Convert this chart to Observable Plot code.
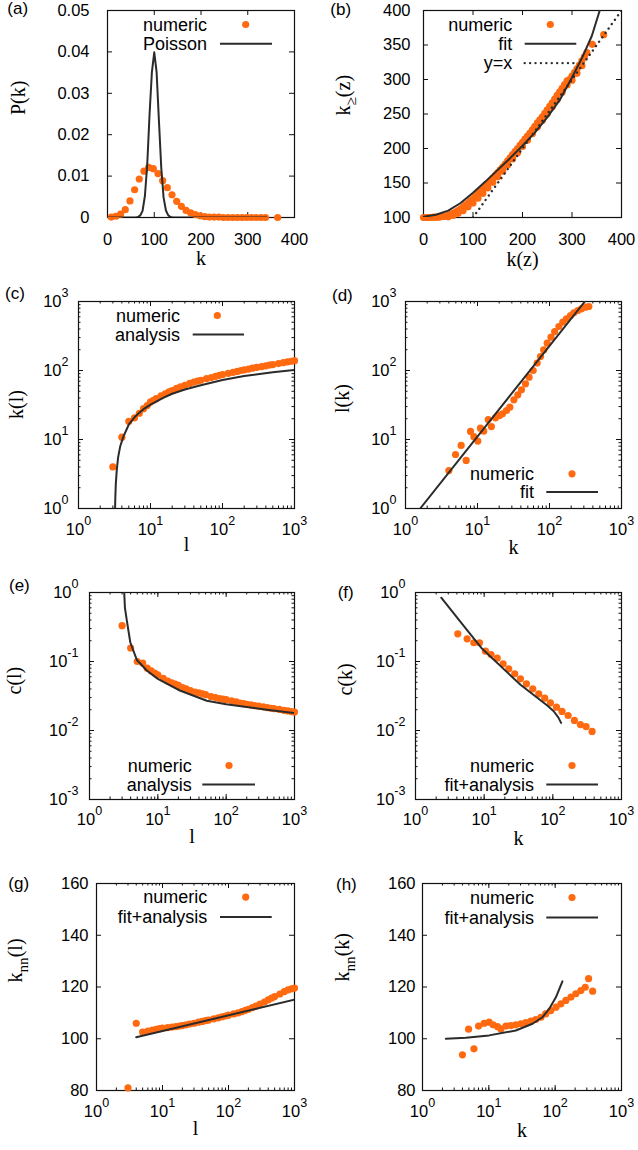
<!DOCTYPE html>
<html><head><meta charset="utf-8">
<script src="https://cdn.jsdelivr.net/npm/d3@7"></script>
<script src="https://cdn.jsdelivr.net/npm/@observablehq/plot@0.6"></script>
<style>
html,body{margin:0;padding:0;background:#fff;}
#root{position:relative;width:638px;height:1150px;overflow:hidden;background:#fff;}
#root > svg{position:absolute;}
</style></head><body><div id="root"></div>
<script>
// ---------------- data ----------------
// (a) degree distribution
const aNumK = [8,18,28,38,48,58,68,78,88,98,108,118,128,138,148,158,168,178,188,198,208,218,228,238,248,258,268,278,288,298,308,318,328,338,364];
const aNumP = [0.0001,0.0003,0.0008,0.0019,0.0040,0.0067,0.0093,0.0112,0.0121,0.0118,0.0106,0.0089,0.0072,0.0055,0.0039,0.0027,0.0017,0.0011,0.0007,0.0004,0.0002,0.0001,0.0001,0.0001,0,0,0,0,0,0,0,0,0,0,0];
const aPoisK = [0,50,60,65,70,75,80,85,90,95,100,105,110,115,120,125,130,135,140,150,340];
const aPoisP = [0,0,0.00002,0.0001,0.0005,0.0016,0.0052,0.0128,0.0250,0.0352,0.0399,0.0352,0.0234,0.0120,0.0048,0.0017,0.0005,0.0001,0.00003,0,0];
// (b)
const bNumK = [0,5,10,15,20,25,30,35,40,45,50,55,60,65,70,75,80,85,90,95,100,105,110,115,120,125,130,135,140,145,150,155,160,165,170,175,180,185,190,195,200,205,210,215,220,225,230,235,240,245,250,255,260,265,270,275,280,285,290,295,300,305,310,315,320,325,330,341,364];
const bNumY = [100,100,100,100,100.5,100.5,100.5,101,101.5,102,103,104.5,106,108,110,112.5,115,118,121,124,127,130.5,134,137.5,141,145,149,153,157,161,165,169,173,177.5,182,186.5,191,195.5,200,204.5,209,213.5,218,222.5,227,232,237,241.5,246,251,256,261,266,271.5,277,282,287,292.5,298,300,305,310,315.5,321,327,333,339,351,365];
const bLowK = [50,60,70,80,90,100,110,120,130,140,150,160,170,180,190,200,210,220,230,240,250,260,270,280,290,300,310,320];
const bLowY = [101,103,106,110,115.5,121,128,135,143,151,159,167,176,185,194,203,212,221.5,231,240.5,250.5,260.5,271,281.5,292,299,309,320];
const bFitK = [0,25,50,75,100,125,150,175,200,225,250,275,300,320,340,356];
const bFitY = [101,104,110,121,136,152,169,186,204,223,245,270,303,331,363,400];
const bDiagK = [100,400];
const bDiagY = [100,400];
// (c)
const cNumL = [3,4,5,6,7,8,9,10,11,12,14,16,18,20,23,26,30,35,40,45,50,60,70,80,90,100,120,140,160,180,200,230,260,300,350,400,450,500,600,700,800,900,1000];
const cNumK = [4,10.8,18.3,20.6,24,28,31,35,37,39,43,46,49,51,55,58,61,65,68,70,72,76,79,82,85,87,91,94,97,100,102,105,108,111,114,117,120,122,126,130,133,136,139];
const cAnaL = [3.22,3.25,3.3,3.4,3.55,3.8,4.2,5,6,7,8,10,15,20,30,50,100,200,500,1000];
const cAnaK = [1,1.5,2.3,3.6,5.5,8,11,16.5,21,24.5,27.5,32,40,46,53,61,73,83,94,102];
// (d)
const dNumK = [4.0,4.95,5.93,6.96,8.0,8.9,10.1,11.0,12.2,14.1,15.6,17.8,20.2,22.2,25.3,28.1,32,36.3,40.8,46.4,52,59.3,67.4,75,83,93,105,118,135,153,172,196,218,247,278,316,352];
const dNumL = [3.55,6.06,8.2,4.97,13.1,11.0,9.5,14.6,13.2,19.5,15.4,20.6,22.3,23.6,26.3,29.4,37.6,44.4,52.5,64,80,100,128,159,199,249,304,367,434,501,561,627,686,741,784,828,847];
const dFitK = [1.6,310];
const dFitL = [1,1000];
// (e)
const eNumL = [3,4,5,6,7,8,9,10,12,14,16,18,20,23,26,30,35,40,45,50,60,70,80,90,100,120,140,160,180,200,230,260,300,350,400,450,500,600,700,800,900,1000];
const eNumC = [0.33,0.157,0.10,0.095,0.08,0.073,0.068,0.064,0.057,0.052,0.049,0.047,0.045,0.042,0.040,0.038,0.036,0.035,0.034,0.033,0.031,0.030,0.029,0.0285,0.028,0.027,0.026,0.025,0.0245,0.024,0.0235,0.023,0.0225,0.022,0.0215,0.021,0.0208,0.0202,0.0196,0.0192,0.0188,0.0185];
const eAnaL = [3.22,3.3,3.52,3.95,4.94,6.9,10,21,52,100,393,1000];
const eAnaC = [1,0.6,0.39,0.19,0.105,0.074,0.056,0.038,0.027,0.024,0.02,0.0179];
// (f)
const fNumK = [4.13,5.65,7.07,8.55,10.45,12.6,15.5,18.9,22.8,27.9,33.8,41.3,51,62.4,76.2,92.3,113,136,167,206,252,305,373];
const fNumC = [0.252,0.213,0.187,0.187,0.141,0.126,0.112,0.0925,0.0784,0.0664,0.0561,0.0475,0.0402,0.034,0.0294,0.0252,0.0218,0.0189,0.0165,0.014,0.0122,0.0114,0.0097];
const fFitK = [2.37,5,9.35,20,33.8,55,83,103,120,132];
const fFitC = [0.84,0.33,0.153,0.075,0.046,0.0316,0.023,0.019,0.0155,0.0129];
// (g)
const gNumL = [3,4,5,6,7,8,9,10,12,14,16,18,20,23,26,30,35,40,45,50,60,70,80,90,100,120,140,160,180,200,230,260,300,350,400,450,500,600,700,800,900,1000];
const gNumK = [81,106,102.6,103,103.3,103.6,103.9,104.1,104.3,104.5,104.7,104.9,105.1,105.4,105.7,106,106.4,106.7,107,107.2,107.7,108.1,108.5,108.8,109.1,109.6,110,110.5,111,111.4,112,112.6,113.4,114.2,115,115.7,116.3,117.3,118.2,118.9,119.3,119.6];
const gFitL = [4,1000];
const gFitK = [100.6,115.1];
// (h)
const hNumK = [4.0,4.95,5.96,7.0,8.5,10.1,11.6,13.5,15.2,18.1,21.5,25.5,30.4,36.1,43,51,61,72,86,103,122,145,173,205,244,284,319,367];
const hNumKnn = [93.8,103.7,96.1,104.9,106.0,106.4,105.4,104.7,103.8,104.9,105.1,105.4,105.8,106.2,106.8,107.4,108.3,109.6,110.9,112.2,113.5,114.8,116.1,117.4,118.6,119.9,123.2,118.4];
const hFitK = [2.25,4.5,10.1,25.5,45.5,64.3,81.5,103,128.6];
const hFitKnn = [100,100.4,101.3,103.2,105.8,108.3,111.6,116.1,122.2];

// tick values
const linTicks400 = [0,100,200,300,400];
const aYTicks = [0,0.01,0.02,0.03,0.04,0.05];
const bYTicks = [100,150,200,250,300,350,400];
const logTicks3 = [1,10,100,1000];
const logTicksC = [0.001,0.01,0.1,1];
const knnTicks = [80,100,120,140,160];
const panelLabels = ["(a)","(b)","(c)","(d)","(e)","(f)","(g)","(h)"];

// ---------------- styling ----------------
const ORANGE = "#ff6a10", LINE = "#2b2b2b";
const SANS = "Liberation Sans, Arial, sans-serif", SERIF = "Liberation Serif, Times New Roman, serif";
const W = 319, H = 291, MT = 10, MB = 74;
const TICK_FONT = 16.5, LEG_FONT = 18, R = 3.6;
const DOTTED = "0.01,5.4";

const rows = (xs, ys) => xs.map((x, i) => ({x, y: ys[i]}));
const logFmt = d => "10^{" + Math.round(Math.log10(d)) + "}";
const intFmt = d => String(d);

function richText(svg) {
  svg.querySelectorAll("text").forEach(el => {
    const s = el.textContent;
    if (!/[\^_]\{/.test(s)) return;
    const holder = el.closest("[font-size]");
    const fs = holder ? parseFloat(holder.getAttribute("font-size")) : TICK_FONT;
    const parts = s.split(/([\^_]\{[^}]*\})/).filter(p => p.length);
    while (el.firstChild) el.removeChild(el.firstChild);
    let shift = 0;
    for (const p of parts) {
      let type = "n", t = p;
      if (/^\^\{/.test(p)) { type = "sup"; t = p.slice(2, -1); }
      else if (/^_\{/.test(p)) { type = "sub"; t = p.slice(2, -1); }
      const target = type === "sup" ? -0.62 * fs : type === "sub" ? 0.3 * fs : 0;
      const ts = document.createElementNS("http://www.w3.org/2000/svg", "tspan");
      if (target - shift !== 0) ts.setAttribute("dy", target - shift);
      shift = target;
      if (type !== "n") ts.setAttribute("font-size", (0.76 * fs).toFixed(2));
      ts.textContent = t;
      el.appendChild(ts);
    }
  });
}

function addLegend(svg, p, L) {
  const fr = W - p.mr, ft = MT, fb = H - MB;
  const g = d3.select(svg).append("g").attr("font-family", SANS).attr("font-size", LEG_FONT);
  L.items.forEach((it, i) => {
    const base = L.anchor === "top" ? ft + L.base[i] : fb - L.base[i];
    g.append("text").attr("x", fr - L.textEnd).attr("y", base).attr("text-anchor", "end").attr("fill", "#000").text(it.label);
    const sy = base - 6.2;
    if (it.type === "dot") {
      g.append("circle").attr("cx", fr - L.dotX).attr("cy", sy).attr("r", R).attr("fill", ORANGE);
    } else {
      const ln = g.append("line").attr("x1", fr - L.lineX1).attr("x2", fr - L.lineX2).attr("y1", sy).attr("y2", sy)
        .attr("stroke", LINE);
      if (it.type === "dotted") ln.attr("stroke-width", 2.4).attr("stroke-dasharray", DOTTED).attr("stroke-linecap", "round");
      else ln.attr("stroke-width", 2);
    }
  });
}

function makePanel(p) {
  const fw = W - p.ml - p.mr, fh = H - MT - MB;
  const xMinor = p.xType === "log" ? d3.scaleLog().domain(p.xDomain).ticks() : [];
  const yMinor = p.yType === "log" ? d3.scaleLog().domain(p.yDomain).ticks() : [];
  const tk = {stroke: "#111", strokeWidth: 1};
  const marks = [
    Plot.frame({stroke: "#111", strokeWidth: 1.2}),
    Plot.tickX(xMinor, {x: d => d, insetTop: fh - 2.5, ...tk}),
    Plot.tickX(xMinor, {x: d => d, insetBottom: fh - 2.5, ...tk}),
    Plot.tickX(p.xTicks, {x: d => d, insetTop: fh - 5, ...tk}),
    Plot.tickX(p.xTicks, {x: d => d, insetBottom: fh - 5, ...tk}),
    Plot.tickY(yMinor, {y: d => d, insetRight: fw - 2.5, ...tk}),
    Plot.tickY(yMinor, {y: d => d, insetLeft: fw - 2.5, ...tk}),
    Plot.tickY(p.yTicks, {y: d => d, insetRight: fw - 5, ...tk}),
    Plot.tickY(p.yTicks, {y: d => d, insetLeft: fw - 5, ...tk}),
    Plot.axisX({ticks: p.xTicks, tickFormat: p.xFormat, tickSize: 0, tickPadding: p.xPad, fontSize: TICK_FONT, label: null}),
    Plot.axisY({ticks: p.yTicks, tickFormat: p.yFormat, tickSize: 0, tickPadding: p.yPad, fontSize: TICK_FONT, label: null}),
    ...p.marks,
    Plot.text([p.xLabel], {text: d => d, frameAnchor: "bottom", dy: p.xLabelDy, fontFamily: SERIF, fontSize: 20, fill: "#000"}),
    Plot.text([p.yLabel], {text: d => d, frameAnchor: "left", dx: p.yLabelDx, dy: p.yLabelDy, rotate: -90, fontFamily: SERIF, fontSize: 20, fill: "#000"})
  ];
  const svg = Plot.plot({
    width: W, height: H,
    marginLeft: p.ml, marginRight: p.mr, marginTop: MT, marginBottom: MB,
    x: {type: p.xType, domain: p.xDomain},
    y: {type: p.yType, domain: p.yDomain},
    style: {fontFamily: SANS, background: "transparent", color: "#000", overflow: "visible"},
    marks
  });
  richText(svg);
  addLegend(svg, p, p.legend);
  svg.style.left = p.left + "px";
  svg.style.top = p.top + "px";
  return svg;
}

const dots = (xs, ys) => Plot.dot(rows(xs, ys), {x: "x", y: "y", r: R, fill: ORANGE});
const curve = (xs, ys, extra = {}) => Plot.line(rows(xs, ys), {x: "x", y: "y", stroke: LINE, strokeWidth: 2, clip: true, ...extra});

const panels = [
  { // (a)
    left: 0, top: 0, ml: 107, mr: 25,
    xType: "linear", xDomain: [0, 400], xTicks: linTicks400, xFormat: intFmt, xPad: 16,
    yType: "linear", yDomain: [0, 0.05], yTicks: aYTicks, yFormat: d => d === 0 ? "0" : d.toFixed(2), yPad: 18,
    xLabel: "k", xLabelDy: 47, yLabel: "P(k)", yLabelDx: -89, yLabelDy: 1,
    marks: [dots(aNumK, aNumP), curve(aPoisK, aPoisP)],
    legend: {anchor: "top", textEnd: 87, base: [20.7, 40], dotX: 48.3, lineX1: 74, lineX2: 22,
      items: [{label: "numeric", type: "dot"}, {label: "Poisson", type: "line"}]}
  },
  { // (b)
    left: 319, top: 0, ml: 104, mr: 17,
    xType: "linear", xDomain: [0, 400], xTicks: linTicks400, xFormat: intFmt, xPad: 16,
    yType: "linear", yDomain: [100, 400], yTicks: bYTicks, yFormat: intFmt, yPad: 13,
    xLabel: "k(z)", xLabelDy: 48, yLabel: "k_{≥}(z)", yLabelDx: -80, yLabelDy: 1.5,
    marks: [dots(bNumK, bNumY), dots(bLowK, bLowY), curve(bFitK, bFitY),
      curve(bDiagK, bDiagY, {strokeDasharray: DOTTED, strokeWidth: 2.4, strokeLinecap: "round"})],
    legend: {anchor: "top", textEnd: 108.7, base: [20.7, 40, 59.3], dotX: 70.7, lineX1: 96.3, lineX2: 44.7,
      items: [{label: "numeric", type: "dot"}, {label: "fit", type: "line"}, {label: "y=x", type: "dotted"}]}
  },
  { // (c)
    left: 0, top: 291, ml: 78, mr: 25,
    xType: "log", xDomain: [1, 1000], xTicks: logTicks3, xFormat: logFmt, xPad: 15,
    yType: "log", yDomain: [1, 1000], yTicks: logTicks3, yFormat: logFmt, yPad: 10,
    xLabel: "l", xLabelDy: 42, yLabel: "k(l)", yLabelDx: -62, yLabelDy: 14,
    marks: [dots(cNumL, cNumK), curve(cAnaL, cAnaK)],
    legend: {anchor: "top", textEnd: 114, base: [20.7, 39.7], dotX: 76.7, lineX1: 101.3, lineX2: 50,
      items: [{label: "numeric", type: "dot"}, {label: "analysis", type: "line"}]}
  },
  { // (d)
    left: 319, top: 291, ml: 86, mr: 17,
    xType: "log", xDomain: [1, 1000], xTicks: logTicks3, xFormat: logFmt, xPad: 15,
    yType: "log", yDomain: [1, 1000], yTicks: logTicks3, yFormat: logFmt, yPad: 9,
    xLabel: "k", xLabelDy: 45.5, yLabel: "l(k)", yLabelDx: -63, yLabelDy: 8,
    marks: [dots(dNumK, dNumL), curve(dFitK, dFitL)],
    legend: {anchor: "bottom", textEnd: 87, base: [28, 9.7], dotX: 49, lineX1: 74.7, lineX2: 23,
      items: [{label: "numeric", type: "dot"}, {label: "fit", type: "line"}]}
  },
  { // (e)
    left: 0, top: 582, ml: 89, mr: 25,
    xType: "log", xDomain: [1, 1000], xTicks: logTicks3, xFormat: logFmt, xPad: 14,
    yType: "log", yDomain: [0.001, 1], yTicks: logTicksC, yFormat: logFmt, yPad: 11,
    xLabel: "l", xLabelDy: 43.5, yLabel: "c(l)", yLabelDx: -75, yLabelDy: -1.5,
    marks: [dots(eNumL, eNumC), curve(eAnaL, eAnaC)],
    legend: {anchor: "bottom", textEnd: 102.3, base: [27.3, 8.3], dotX: 65, lineX1: 91.7, lineX2: 39,
      items: [{label: "numeric", type: "dot"}, {label: "analysis", type: "line"}]}
  },
  { // (f)
    left: 319, top: 582, ml: 96, mr: 17,
    xType: "log", xDomain: [1, 1000], xTicks: logTicks3, xFormat: logFmt, xPad: 14,
    yType: "log", yDomain: [0.001, 1], yTicks: logTicksC, yFormat: logFmt, yPad: 10,
    xLabel: "k", xLabelDy: 45.5, yLabel: "c(k)", yLabelDx: -70, yLabelDy: -0.5,
    marks: [dots(fNumK, fNumC), curve(fFitK, fFitC)],
    legend: {anchor: "bottom", textEnd: 87, base: [27.3, 8.3], dotX: 49, lineX1: 74.7, lineX2: 23,
      items: [{label: "numeric", type: "dot"}, {label: "fit+analysis", type: "line"}]}
  },
  { // (g)
    left: 0, top: 873, ml: 96, mr: 25,
    xType: "log", xDomain: [1, 1000], xTicks: logTicks3, xFormat: logFmt, xPad: 15,
    yType: "linear", yDomain: [80, 160], yTicks: knnTicks, yFormat: intFmt, yPad: 8,
    xLabel: "l", xLabelDy: 44.5, yLabel: "k_{nn}(l)", yLabelDx: -81, yLabelDy: -4.5,
    marks: [dots(gNumL, gNumK), curve(gFitL, gFitK)],
    legend: {anchor: "top", textEnd: 86.7, base: [20.3, 40.3], dotX: 48.3, lineX1: 74, lineX2: 22.3,
      items: [{label: "numeric", type: "dot"}, {label: "fit+analysis", type: "line"}]}
  },
  { // (h)
    left: 319, top: 873, ml: 103, mr: 17,
    xType: "log", xDomain: [1, 1000], xTicks: logTicks3, xFormat: logFmt, xPad: 15,
    yType: "linear", yDomain: [80, 160], yTicks: knnTicks, yFormat: intFmt, yPad: 7,
    xLabel: "k", xLabelDy: 46, yLabel: "k_{nn}(k)", yLabelDx: -80, yLabelDy: -5.5,
    marks: [dots(hNumK, hNumKnn), curve(hFitK, hFitKnn)],
    legend: {anchor: "top", textEnd: 87, base: [20.7, 40.7], dotX: 49, lineX1: 74.7, lineX2: 23,
      items: [{label: "numeric", type: "dot"}, {label: "fit+analysis", type: "line"}]}
  }
];

const root = document.getElementById("root");
panels.forEach(p => root.appendChild(makePanel(p)));

// panel letters
const labelPos = [[7.3,13.7],[330.3,14.7],[5,299.4],[332,301.4],[9,591.4],[337.7,598],[8.3,889.4],[336,889.7]];
const overlay = d3.select(root).append("svg").attr("width", 638).attr("height", 1150)
  .style("left", "0px").style("top", "0px").style("pointer-events", "none");
overlay.selectAll("text").data(panelLabels).join("text")
  .attr("x", (d, i) => labelPos[i][0]).attr("y", (d, i) => labelPos[i][1])
  .attr("font-family", SANS).attr("font-size", 17).attr("fill", "#000").text(d => d);
</script></body></html>
